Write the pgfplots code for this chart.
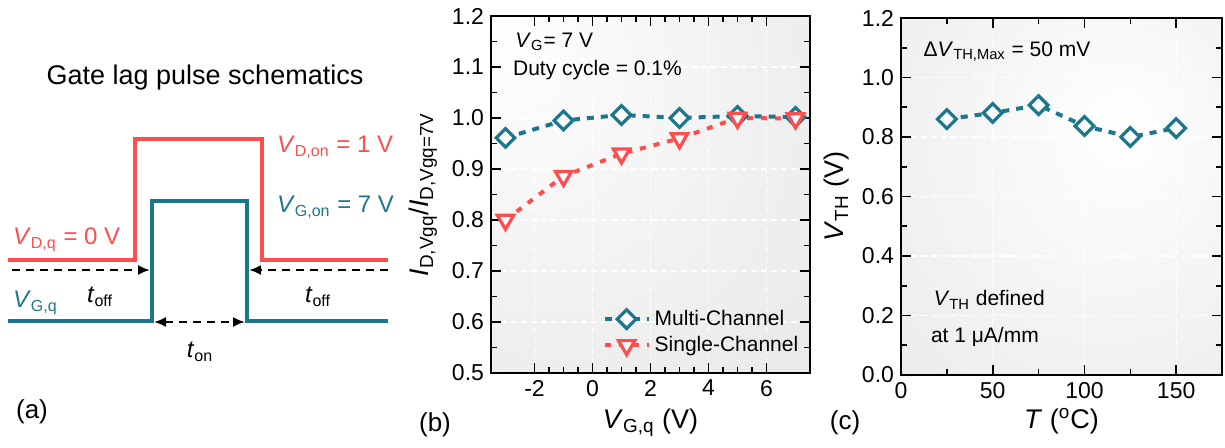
\documentclass[border=0pt]{standalone}
\usepackage{fontspec}
\setmainfont{Liberation Sans}
\usepackage{pgfplots}
\pgfplotsset{compat=1.18}
\usetikzlibrary{arrows.meta}
\definecolor{mteal}{RGB}{28,118,142}
\definecolor{mred}{RGB}{255,76,76}
\pgfdeclareradialshading{bshade}{\pgfpoint{-25bp}{25bp}}{color(0bp)=(white); color(45bp)=(black!8); color(80bp)=(black!12)}
\pgfdeclareradialshading{cshade}{\pgfpoint{10bp}{10bp}}{color(0bp)=(white); color(45bp)=(black!8); color(80bp)=(black!12)}
\newcommand{\fA}{\fontsize{12}{14}\selectfont}
\newcommand{\fN}{\fontsize{10.5}{12.5}\selectfont}
\pgfplotsset{panel/.style={
    scale only axis, anchor=south west,
    axis line style={line width=1pt},
    tick style={black, line width=0.8pt},
    major tick length=5pt, minor tick length=3pt,
    tick align=inside, xtick pos=both, ytick pos=both,
    grid=major, major grid style={white, dash pattern=on 3pt off 2pt, line width=0.6pt},
    tick label style={font=\fontsize{11.5}{13}\selectfont},
    /pgf/number format/assume math mode=true,
    label style={font=\fontsize{13.5}{16}\selectfont},
  },
  multi/.style={mteal, line width=2pt, dash pattern=on 3.5pt off 3.5pt,
    mark=square*, mark size=3.3pt, mark options={solid, rotate=45, fill=white, line width=1.6pt}},
  single/.style={mred, line width=2pt, dash pattern=on 3pt off 4pt,
    mark=triangle*, mark size=4.7pt, mark options={solid, rotate=180, fill=white, line width=1.6pt}},
}
\begin{document}
\begin{tikzpicture}
\path[use as bounding box] (0,0) rectangle (612.5pt,224pt);

% (a) pulse schematic, coordinates in reference pixels
\begin{axis}[at={(0pt,0pt)}, anchor=south west, scale only axis,
    width=200pt, height=224pt, xmin=0, xmax=400, ymin=0, ymax=448,
    y dir=reverse, hide axis, clip=false]
\addplot[mred, line width=1.7pt] coordinates {(8,260)(135,260)(135,139)(262,139)(262,260)(388,260)};
\addplot[mteal, line width=1.7pt] coordinates {(8,321)(152,321)(152,201)(247,201)(247,321)(388,321)};
\addplot[black, line width=1pt, dash pattern=on 4pt off 3pt, -{Latex[length=6pt,width=5pt]}] coordinates {(12,270)(150,270)};
\addplot[black, line width=1pt, dash pattern=on 4pt off 3pt, -{Latex[length=6pt,width=5pt]}] coordinates {(388,270)(249,270)};
\addplot[black, line width=1pt, dash pattern=on 4pt off 3pt, {Latex[length=6pt,width=5pt]}-{Latex[length=6pt,width=5pt]}] coordinates {(154,322)(245,322)};
\node[font=\fontsize{13.5}{16}\selectfont] at (axis cs:205,78) {Gate lag pulse schematics};
\node[anchor=west, text=mred, font=\fA] at (axis cs:270,147) {\textit{V}\textsubscript{D,on} = 1 V};
\node[anchor=west, text=mteal, font=\fA] at (axis cs:270,207) {\textit{V}\textsubscript{G,on} = 7 V};
\node[anchor=west, text=mred, font=\fA] at (axis cs:6,240) {\textit{V}\textsubscript{D,q} = 0 V};
\node[anchor=west, text=mteal, font=\fA] at (axis cs:6,303) {\textit{V}\textsubscript{G,q}};
\node[font=\fA] at (axis cs:100,297) {\textit{t}\textsubscript{off}};
\node[font=\fA] at (axis cs:318,297) {\textit{t}\textsubscript{off}};
\node[font=\fA] at (axis cs:200,352) {\textit{t}\textsubscript{on}};
\node[font=\fontsize{13}{15}\selectfont] at (axis cs:32,412) {(a)};
\node[font=\fontsize{13}{15}\selectfont] at (axis cs:435,425) {(b)};
\node[font=\fontsize{13}{15}\selectfont] at (axis cs:845,423) {(c)};
\end{axis}

% (b) normalised drain current
\begin{axis}[panel, at={(245.5pt,37.5pt)}, width=159.5pt, height=178.5pt,
    xmin=-3.5, xmax=7.5, ymin=0.5, ymax=1.2,
    xtick={-2,0,2,4,6}, ytick={0.5,0.6,0.7,0.8,0.9,1.0,1.1,1.2},
    minor x tick num=3, minor y tick num=1,
    yticklabel style={/pgf/number format/.cd, fixed, fixed zerofill, precision=1},
    axis background/.style={shade, shading=bshade},
    xlabel={\textit{V}\textsubscript{G,q} (V)},
    ylabel={\textit{I}\textsubscript{D,Vgq}/\textit{I}\textsubscript{D,Vgq=7V}},
    xlabel style={at={(axis description cs:0.5,-0.14)}, anchor=center},
    ylabel style={at={(axis description cs:-0.213,0.5)}, anchor=center},
    legend style={draw=none, fill=none, at={(axis description cs:0.33,0.2)}, anchor=north west,
      font=\fontsize{10.5}{12}\selectfont, row sep=0pt},
    legend cell align=left,
    legend image code/.code={\draw[mark repeat=2,mark phase=2] plot coordinates {(0pt,0pt)(11pt,0pt)(22pt,0pt)};},
  ]
\addplot[multi] coordinates {(-3,0.961)(-1,0.995)(1,1.006)(3,1.0)(5,1.004)(7,1.002)};
\addlegendentry{Multi-Channel}
\addplot[single] coordinates {(-3,0.80)(-1,0.886)(1,0.93)(3,0.96)(5,1.0)(7,0.999)};
\addlegendentry{Single-Channel}
\node[anchor=west, font=\fN] at (axis cs:-2.9,1.149) {\textit{V}\textsubscript{G}= 7 V};
\node[anchor=west, font=\fN] at (axis cs:-2.98,1.094) {Duty cycle = 0.1\%};
\end{axis}

% (c) threshold voltage vs temperature
\begin{axis}[panel, at={(450.5pt,36.5pt)}, width=160.5pt, height=178.5pt,
    xmin=0, xmax=175, ymin=0, ymax=1.2,
    xtick={0,50,100,150}, ytick={0,0.2,0.4,0.6,0.8,1.0,1.2},
    minor x tick num=1, minor y tick num=1,
    yticklabel style={/pgf/number format/.cd, fixed, fixed zerofill, precision=1},
    axis background/.style={shade, shading=cshade},
    xlabel={\textit{T} (\textsuperscript{o}C)},
    ylabel={\textit{V}\textsubscript{TH} (V)},
    xlabel style={at={(axis description cs:0.5,-0.13)}, anchor=center},
    ylabel style={at={(axis description cs:-0.2,0.5)}, anchor=center},
  ]
\addplot[multi] coordinates {(25,0.860)(50,0.881)(75,0.907)(100,0.837)(125,0.800)(150,0.830)};
\node[anchor=west, font=\fN] at (axis cs:8.5,1.086) {Δ\textit{V}\textsubscript{TH,Max} = 50 mV};
\node[anchor=west, font=\fN] at (axis cs:14,0.252) {\textit{V}\textsubscript{TH} defined};
\node[anchor=west, font=\fN] at (axis cs:12.5,0.128) {at 1 μA/mm};
\end{axis}
\end{tikzpicture}
\end{document}
